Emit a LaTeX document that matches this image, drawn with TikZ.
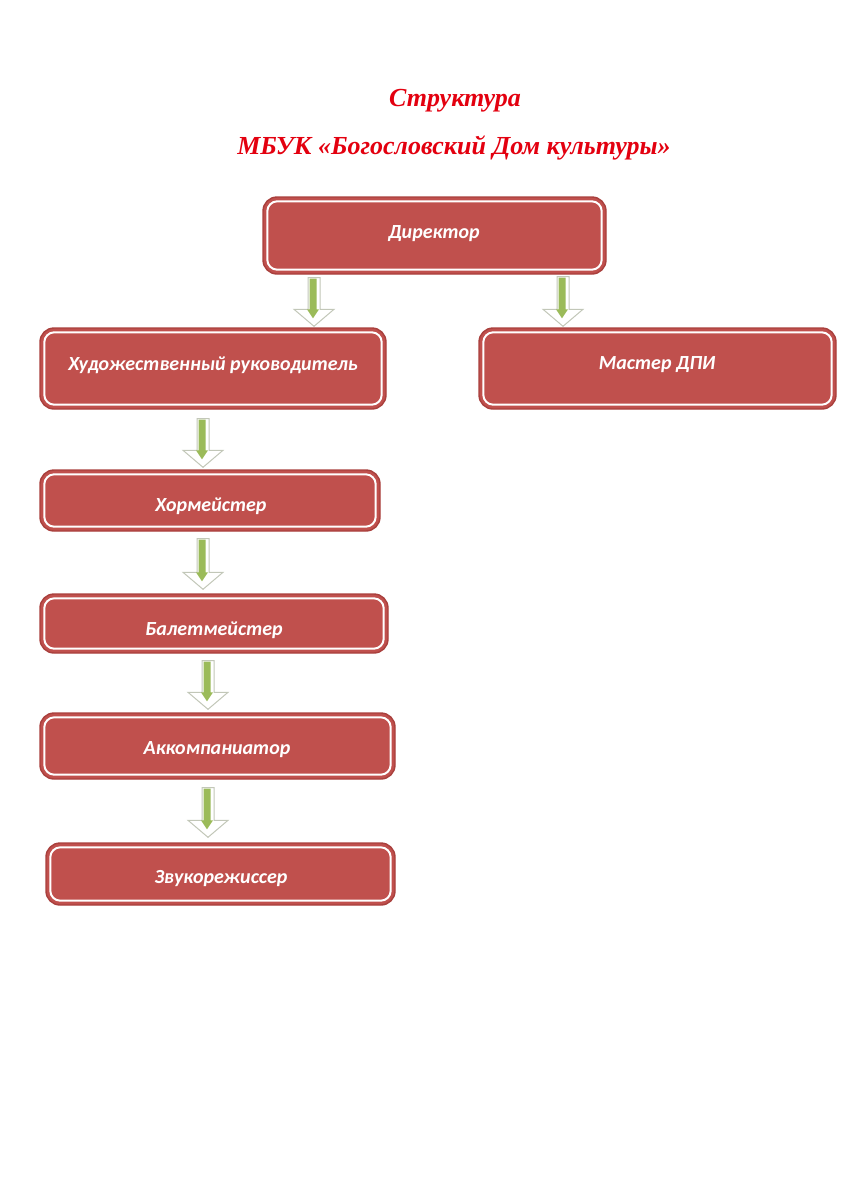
\documentclass[tikz,border=0pt]{standalone}
\usepackage{fontspec}
\setmainfont{Liberation Serif}
\newfontfamily\boxfont{Carlito}
\usetikzlibrary{calc}
\definecolor{boxred}{HTML}{C0504D}
\definecolor{boxdark}{HTML}{A9403D}
\definecolor{titlered}{HTML}{E3000F}
\definecolor{arrowgreen}{HTML}{9BBB59}
\definecolor{arrowgray}{HTML}{C2C7B8}
\tikzset{
  orgbox/.style={draw=boxdark, line width=1.4pt, fill=boxred, rounded corners=14pt, inner sep=0pt},
  innerline/.style={draw=white, line width=2pt, rounded corners=10pt},
  boxtext/.style={text=white, font=\boxfont\bfseries\itshape\fontsize{20}{22}\selectfont, inner sep=0pt},
  titletext/.style={text=titlered, font=\bfseries\itshape\fontsize{26}{29}\selectfont, inner sep=0pt},
  arrowout/.style={draw=arrowgray, line width=1pt, fill=white},
  arrowin/.style={fill=arrowgreen},
}
\newcommand{\blockarrow}[2]{%
  \draw[arrowout] let \p1=(#1), \p2=(#2) in
    (\x1-6pt,\y1) -- (\x1+6pt,\y1) -- (\x1+6pt,\y2+17pt) -- (\x1+20pt,\y2+17pt)
    -- (\x1,\y2) -- (\x1-20pt,\y2+17pt) -- (\x1-6pt,\y2+17pt) -- cycle;
  \fill[arrowin] let \p1=(#1), \p2=(#2) in
    (\x1-4.5pt,\y1-1pt) -- (\x1+2.5pt,\y1-1pt) -- (\x1+2.5pt,\y2+17pt) -- (\x1+5pt,\y2+17pt)
    -- (\x1-1pt,\y2+8pt) -- (\x1-7pt,\y2+17pt) -- (\x1-4.5pt,\y2+17pt) -- cycle;
}
\newcommand{\innerframe}[1]{%
  \draw[innerline] ($(#1.north west)+(5,5)$) rectangle ($(#1.south east)+(-5,-5)$);
}
\begin{document}
\begin{tikzpicture}[x=1pt, y=-1pt]
\useasboundingbox (0,0) rectangle (850,1202);

% title
\node[titletext] (t1) at (455,101) {Структура};
\node[titletext] (t2) at (454,148) {МБУК «Богословский Дом культуры»};

% boxes
\node[orgbox, minimum width=343pt, minimum height=77pt] (dir) at (434.5,235.5) {};
\node[orgbox, minimum width=346pt, minimum height=81pt] (hud) at (213,368.5) {};
\node[orgbox, minimum width=357pt, minimum height=81pt] (dpi) at (657.5,368.5) {};
\node[orgbox, minimum width=340pt, minimum height=61pt] (hor) at (210,500.5) {};
\node[orgbox, minimum width=348pt, minimum height=59pt] (bal) at (214,623.5) {};
\node[orgbox, minimum width=355pt, minimum height=66pt] (akk) at (217.5,746) {};
\node[orgbox, minimum width=349pt, minimum height=62pt] (zvuk) at (220.5,874) {};

\innerframe{dir}
\innerframe{hud}
\innerframe{dpi}
\innerframe{hor}
\innerframe{bal}
\innerframe{akk}
\innerframe{zvuk}

% texts
\node[boxtext] (dirt) at (434,234) {Директор};
\node[boxtext] (hudt) at (213,365) {Художественный руководитель};
\node[boxtext] (dpit) at (657,365) {Мастер ДПИ};
\node[boxtext] (hort) at (211,506) {Хормейстер};
\node[boxtext] (balt) at (214,630) {Балетмейстер};
\node[boxtext] (akkt) at (217,750) {Аккомпаниатор};
\node[boxtext] (zvukt) at (221,879) {Звукорежиссер};

% connector coordinates
\coordinate (a1s) at ($(314,0 |- dir.south)+(0,3)$);
\coordinate (a1e) at ($(314,0 |- hud.north)+(0,-1)$);
\coordinate (a2s) at ($(563,0 |- dir.south)+(0,2)$);
\coordinate (a2e) at ($(563,0 |- dpi.north)+(0,-1)$);
\coordinate (a3s) at ($(203,0 |- hud.south)+(0,9)$);
\coordinate (a3e) at ($(203,0 |- hor.north)+(0,-2)$);
\coordinate (a4s) at ($(203,0 |- hor.south)+(0,7)$);
\coordinate (a4e) at ($(203,0 |- bal.north)+(0,-4)$);
\coordinate (a5s) at ($(208,0 |- bal.south)+(0,7)$);
\coordinate (a5e) at ($(208,0 |- akk.north)+(0,-3)$);
\coordinate (a6s) at ($(208,0 |- akk.south)+(0,8)$);
\coordinate (a6e) at ($(208,0 |- zvuk.north)+(0,-5)$);

\blockarrow{a1s}{a1e}
\blockarrow{a2s}{a2e}
\blockarrow{a3s}{a3e}
\blockarrow{a4s}{a4e}
\blockarrow{a5s}{a5e}
\blockarrow{a6s}{a6e}
\end{tikzpicture}
\end{document}
